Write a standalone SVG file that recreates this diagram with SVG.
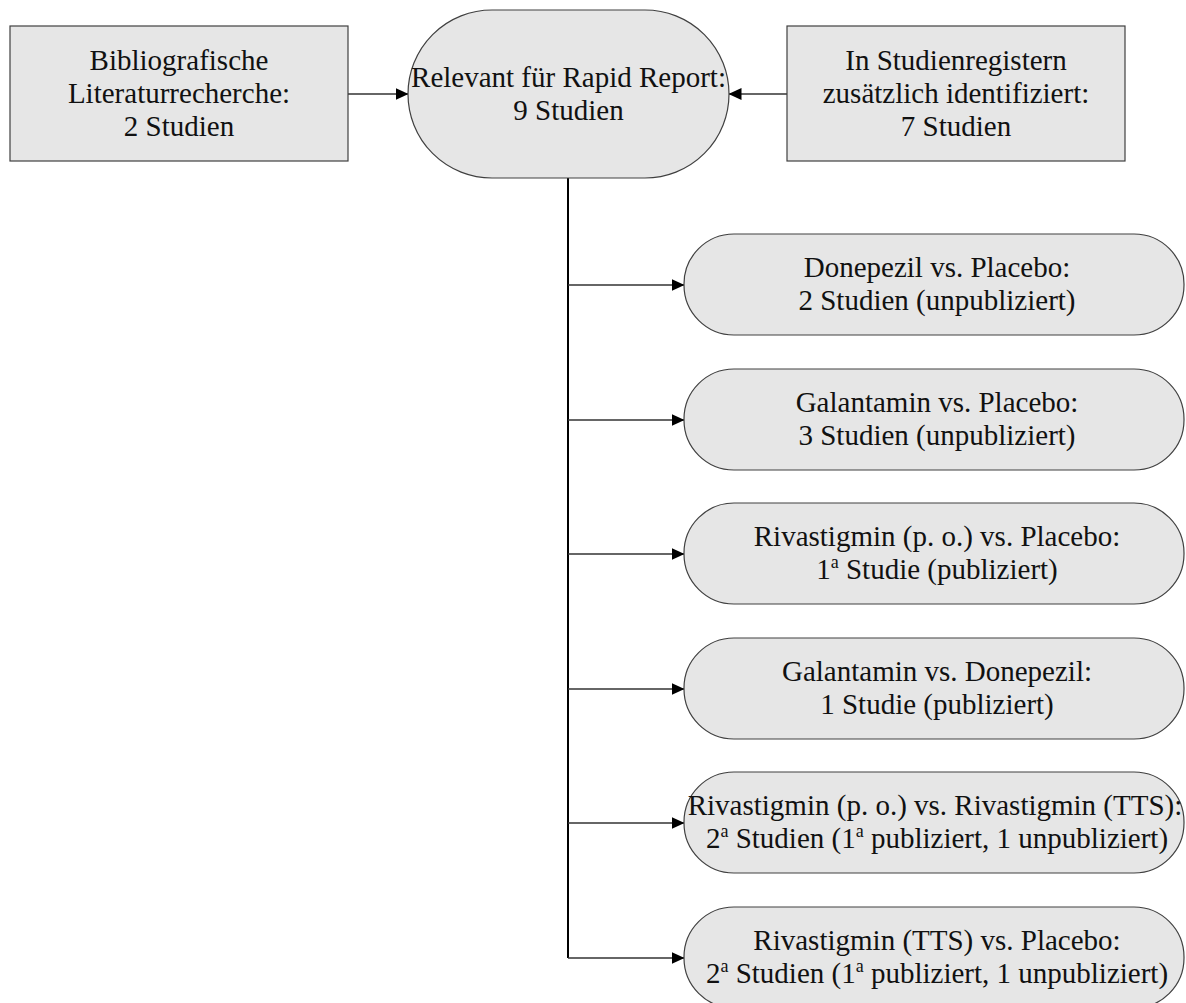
<svg xmlns="http://www.w3.org/2000/svg" width="1186" height="1003" viewBox="0 0 1186 1003">
<style>
.box{fill:#e6e6e6;stroke:#404040;stroke-width:1.2}
.t{font-family:"Liberation Serif","Times New Roman",serif;font-size:29px;fill:#111;text-anchor:middle}
.sup{font-size:18px}
.ln{stroke:#333;stroke-width:1.3;fill:none}
.trunk{stroke:#000;stroke-width:2;fill:none}
</style>
<defs>
<marker id="ah" markerWidth="13" markerHeight="12" refX="12.5" refY="6" orient="auto" markerUnits="userSpaceOnUse">
<path d="M0,0 L13,6 L0,12 Z" fill="#000"/>
</marker>
</defs>
<rect width="1186" height="1003" fill="#fff"/>
<g id="connectors">
<line class="ln" x1="348" y1="94" x2="408" y2="94" marker-end="url(#ah)"/>
<line class="ln" x1="787" y1="94" x2="729" y2="94" marker-end="url(#ah)"/>
<polyline class="trunk" points="568,178 568,958"/>
<line class="ln" x1="568" y1="285" x2="684" y2="285" marker-end="url(#ah)"/>
<line class="ln" x1="568" y1="420" x2="684" y2="420" marker-end="url(#ah)"/>
<line class="ln" x1="568" y1="554" x2="684" y2="554" marker-end="url(#ah)"/>
<line class="ln" x1="568" y1="689" x2="684" y2="689" marker-end="url(#ah)"/>
<line class="ln" x1="568" y1="823" x2="684" y2="823" marker-end="url(#ah)"/>
<line class="ln" x1="568" y1="958" x2="684" y2="958" marker-end="url(#ah)"/>
</g>
<g id="n-biblio">
<rect class="box" x="10" y="26" width="338" height="135"/>
<text class="t" x="179" y="70">Bibliografische</text>
<text class="t" x="179" y="103">Literaturrecherche:</text>
<text class="t" x="179" y="136">2 Studien</text>
</g>
<g id="n-relevant">
<rect class="box" x="408" y="10" width="321" height="168" rx="84" ry="84"/>
<text class="t" x="568.5" y="87">Relevant für Rapid Report:</text>
<text class="t" x="568.5" y="120">9 Studien</text>
</g>
<g id="n-register">
<rect class="box" x="787" y="26" width="338" height="135"/>
<text class="t" x="956" y="70">In Studienregistern</text>
<text class="t" x="956" y="103">zusätzlich identifiziert:</text>
<text class="t" x="956" y="136">7 Studien</text>
</g>
<g id="n-donepezil-placebo">
<rect class="box" x="684" y="234" width="500" height="101" rx="50" ry="50"/>
<text class="t" x="937" y="277">Donepezil vs. Placebo:</text>
<text class="t" x="937" y="310">2 Studien (unpubliziert)</text>
</g>
<g id="n-galantamin-placebo">
<rect class="box" x="684" y="369" width="500" height="101" rx="50" ry="50"/>
<text class="t" x="937" y="412">Galantamin vs. Placebo:</text>
<text class="t" x="937" y="445">3 Studien (unpubliziert)</text>
</g>
<g id="n-rivastigmin-po-placebo">
<rect class="box" x="684" y="503" width="500" height="101" rx="50" ry="50"/>
<text class="t" x="937" y="546">Rivastigmin (p. o.) vs. Placebo:</text>
<text class="t" x="937" y="579">1<tspan class="sup" dy="-11">a</tspan><tspan dy="11"> Studie (publiziert)</tspan></text>
</g>
<g id="n-galantamin-donepezil">
<rect class="box" x="684" y="638" width="500" height="101" rx="50" ry="50"/>
<text class="t" x="937" y="681">Galantamin vs. Donepezil:</text>
<text class="t" x="937" y="714">1 Studie (publiziert)</text>
</g>
<g id="n-rivastigmin-po-tts">
<rect class="box" x="684" y="772" width="500" height="101" rx="50" ry="50"/>
<text class="t" x="935" y="815">Rivastigmin (p. o.) vs. Rivastigmin (TTS):</text>
<text class="t" x="937" y="848">2<tspan class="sup" dy="-11">a</tspan><tspan dy="11"> Studien (1</tspan><tspan class="sup" dy="-11">a</tspan><tspan dy="11"> publiziert, 1 unpubliziert)</tspan></text>
</g>
<g id="n-rivastigmin-tts-placebo">
<rect class="box" x="684" y="907" width="500" height="101" rx="50" ry="50"/>
<text class="t" x="937" y="950">Rivastigmin (TTS) vs. Placebo:</text>
<text class="t" x="937" y="983">2<tspan class="sup" dy="-11">a</tspan><tspan dy="11"> Studien (1</tspan><tspan class="sup" dy="-11">a</tspan><tspan dy="11"> publiziert, 1 unpubliziert)</tspan></text>
</g>
</svg>
